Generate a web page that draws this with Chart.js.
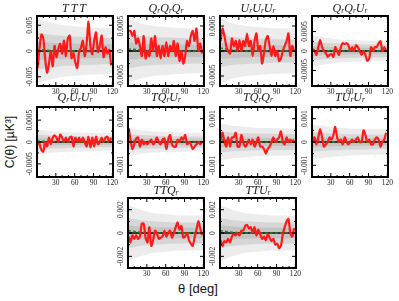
<!DOCTYPE html>
<html lang="en">
<head>
<meta charset="UTF-8">
<title>Three-point correlation functions</title>
<script src="https://cdn.jsdelivr.net/npm/chart.js"></script>
<style>
  body { margin: 0; background: #fff; }
  #wrap { position: relative; width: 399px; height: 301px; overflow: hidden; }
  .panel { position: absolute; }
  .ttl { position: absolute; width: 80px; text-align: center; font: italic 12px "Liberation Serif", serif; line-height: 13px; color: #222; }
  .ttl sub { font-size: 7.5px; vertical-align: -1px; line-height: 0; }
  .ttl.wide { letter-spacing: 2px; }
  #ylab { position: absolute; left: 10px; top: 142px; transform: translate(-50%, -50%) rotate(-90deg); font: 12px "Liberation Sans", Arial, sans-serif; white-space: nowrap; color: #111; }
  #xlab { position: absolute; left: 198px; top: 288px; transform: translate(-50%, -50%); font: 13px "Liberation Sans", Arial, sans-serif; white-space: nowrap; color: #111; }
</style>
</head>
<body>
<div id="wrap">
  <div id="ylab">C(θ) [µK³]</div>
  <div id="xlab">θ [deg]</div>
</div>

<script>
// angular separations of the measured points, and of the simulation bands
const theta = [1,4,7,10,13,16,19,22,25,28,31,34,37,40,43,46,49,52,55,58,61,64,67,70,73,76,79,82,85,88,91,94,97,100,103,106,109,112,115,118];
const bandTheta = [0,20,40,60,80,100,120];
const xTicks = [30,60,90,120];

// TTT
const tttRed = [-0.0033,0.0005,0.0032,0.0025,-0.0015,-0.0042,-0.0025,0.0,-0.003,0.001,-0.0012,0.0004,0.0014,-0.0005,0.002,-0.001,0.0024,0.003,-0.0014,-0.0004,-0.0022,-0.0033,-0.0002,0.0006,0.002,-0.001,0.0014,0.0057,0.001,-0.0006,0.002,0.0036,-0.0002,0.001,0.003,-0.0012,0.0007,-0.0005,0.0002,-0.0028];
const tttMean = [0.0003,0.0001,0.0,0.0,-0.0001,0.0,0.0];
const tttInner = [0.0018,0.0016,0.0015,0.0014,0.0014,0.0013,0.0013];
const tttMid = [0.0036,0.0032,0.0029,0.0028,0.0027,0.0026,0.0025];
const tttOuter = [0.0062,0.0056,0.005,0.0048,0.0046,0.0045,0.0044];
const tttTicks = [-0.005,0,0.005];

// QrQrQr
const qqqRed = [0.0004,0.0004,0.0003,0.0004,0.00015,0.00025,0.0001,-0.0001,0.0003,-0.00015,0.0,-0.0001,0.00025,0.0,0.0003,-0.0001,0.0001,-0.00015,0.0001,-0.0001,0.00018,-0.0001,0.0001,0.0,0.0002,-0.0001,0.00015,-0.0002,0.0,-0.00025,-0.0001,0.0002,0.0001,0.0003,0.0004,0.0002,0.00045,0.0,0.00015,-0.00005];
const qqqMean = [0.00004,0.00002,0.0,0.0,0.0,-0.00001,0.0];
const qqqInner = [0.00017,0.00015,0.00014,0.00013,0.00013,0.00012,0.00012];
const qqqMid = [0.00035,0.0003,0.00028,0.00027,0.00026,0.00025,0.00025];
const qqqOuter = [0.00065,0.00055,0.0005,0.00048,0.00046,0.00045,0.00044];
const qqqTicks = [-0.0005,0,0.0005];

// UrUrUr
const uuuRed = [0.0002,0.00045,0.0003,0.0001,0.0,-0.00005,0.00025,0.0001,0.0002,0.0,0.00022,0.0,0.0002,0.0001,0.00035,0.0001,0.0002,-0.0001,0.0002,0.00035,0.0,0.0001,-0.00025,-0.00005,0.00022,0.0003,0.0001,-0.0001,0.0001,-0.0001,0.0,-0.0002,-0.00015,0.0,0.0001,0.0002,0.00035,-0.0001,0.0001,0.0];
const uuuMean = [0.00006,0.00002,0.0,0.0,-0.00001,0.0,0.0];
const uuuInner = [0.00016,0.00014,0.00013,0.00012,0.00012,0.00011,0.00011];
const uuuMid = [0.00032,0.00028,0.00026,0.00025,0.00024,0.00023,0.00023];
const uuuOuter = [0.00065,0.00055,0.0005,0.00048,0.00046,0.00045,0.00045];
const uuuTicks = [-0.0005,0,0.0005];

// QrQrUr
const qquRed = [0.00005,0.0,-0.0001,0.0001,0.00028,0.0001,0.0,-0.00005,-0.00015,-0.0001,-0.00008,-0.00015,0.0001,0.0,-0.0001,0.0001,0.0002,0.00018,0.0002,0.00015,0.0,0.0001,0.0,0.00015,0.0001,0.0,-0.0001,0.0,-0.0001,-0.00025,-0.0002,0.0001,0.0,0.0001,0.0001,0.0002,0.00025,0.0,0.0001,0.0];
const qquMean = [0.00002,0.00001,0.0,0.0,0.0,0.0,0.0];
const qquInner = [0.00012,0.0001,0.000095,0.00009,0.000085,0.000085,0.00008];
const qquMid = [0.00024,0.00021,0.00019,0.00018,0.00017,0.00017,0.00016];
const qquOuter = [0.0004,0.00035,0.0003,0.00028,0.00027,0.00026,0.00025];
const qquTicks = [-0.0005,0,0.0005];

// QrUrUr
const quuRed = [0.0,-0.00005,-0.00018,-0.00022,0.0,-0.0001,0.0001,-0.00005,0.0001,0.00015,0.0001,0.0,0.00017,0.0001,0.0,0.0001,0.0,0.0001,0.00012,-0.0001,0.0001,0.0,0.0001,0.0,0.0001,0.0,-0.0001,0.00012,-0.00012,0.0001,-0.0001,0.00012,-0.00005,0.0,0.0001,0.0,0.0001,0.00012,0.0,0.0001];
const quuMean = [0.00002,0.00001,0.0,0.0,0.0,0.0,0.0];
const quuInner = [0.00009,0.00008,0.00007,0.00007,0.000065,0.00006,0.00006];
const quuMid = [0.00017,0.00015,0.00014,0.00013,0.00013,0.00012,0.00012];
const quuOuter = [0.00028,0.00025,0.00023,0.00022,0.00021,0.0002,0.0002];
const quuTicks = [-0.0005,0,0.0005];

// TQrUr
const tquRed = [0.0006,0.0001,-0.0003,-0.0001,0.00015,0.0002,-0.0002,0.0001,-0.0001,0.0,-0.0001,0.0,0.0001,-0.0001,0.0,0.0002,0.0,-0.0001,0.0001,0.00015,-0.0003,0.0001,0.0003,-0.0001,-0.0002,-0.0002,0.0001,0.0,0.0002,0.0001,0.0003,-0.0001,0.0,-0.0001,-0.0003,-0.0002,-0.0001,0.0,-0.0001,0.0];
const tquMean = [0.00005,0.00002,0.0,0.0,0.0,0.0,0.0];
const tquInner = [0.00017,0.00015,0.00014,0.00013,0.000125,0.00012,0.00012];
const tquMid = [0.00034,0.0003,0.00028,0.00026,0.00025,0.00024,0.00024];
const tquOuter = [0.0006,0.0005,0.00045,0.00043,0.00042,0.0004,0.0004];
const tquTicks = [-0.001,0,0.001];

// TQrQr
const tqqRed = [0.0001,0.0004,0.0,-0.0002,0.0002,-0.0002,0.0002,0.0002,0.0004,-0.0002,-0.0002,0.0003,0.0,-0.0002,-0.0001,0.0001,-0.0001,0.0001,-0.0002,0.0,0.0002,-0.0002,-0.0002,-0.0003,-0.0005,-0.0003,-0.0002,0.0,0.0002,0.0,0.0001,0.0002,0.00045,0.0,-0.0001,0.0002,0.0,0.0001,0.0,0.0001];
const tqqMean = [0.0001,0.00004,0.0,0.0,0.0,0.0,0.0];
const tqqInner = [0.00022,0.0002,0.00019,0.00018,0.00017,0.00017,0.00017];
const tqqMid = [0.00045,0.0004,0.00038,0.00036,0.00035,0.00034,0.00034];
const tqqOuter = [0.0008,0.0007,0.00065,0.0006,0.0006,0.00058,0.00058];
const tqqTicks = [-0.001,0,0.001];

// TUrUr
const tuuRed = [0.0,0.0002,-0.0001,0.0002,0.00055,0.0002,-0.0002,-0.0001,0.0,0.0002,0.0001,0.0003,0.00065,0.0002,0.0,0.0001,-0.0001,0.0002,0.0,-0.0001,0.0,0.0001,0.0,0.0001,0.0002,0.0,0.0,0.0005,0.0003,0.0,0.0001,-0.0001,-0.0001,0.0001,0.0002,0.0001,-0.0002,0.0,0.0001,0.0004];
const tuuMean = [0.00006,0.00002,0.0,0.0,0.0,0.0,0.0];
const tuuInner = [0.00021,0.00019,0.00018,0.00017,0.00016,0.00016,0.00016];
const tuuMid = [0.00042,0.00038,0.00035,0.00033,0.00032,0.00031,0.00031];
const tuuOuter = [0.00075,0.00068,0.00062,0.00058,0.00056,0.00055,0.00055];
const tuuTicks = [-0.001,0,0.001];

// TTQr
const ttqRed = [-0.0003,-0.0008,-0.0002,-0.0005,-0.0002,-0.0005,-0.0003,0.0008,0.0008,-0.0004,-0.0008,0.0005,-0.0011,-0.0006,0.0002,0.0,-0.0005,-0.0004,-0.0003,0.0002,-0.0003,0.0,0.0002,-0.0004,0.0,0.0005,0.0009,0.0003,0.0006,-0.0004,-0.0003,0.0,-0.0006,-0.0009,-0.0011,-0.0004,0.0003,0.001,0.0004,-0.0002];
const ttqMean = [0.0002,0.00005,0.0,0.0,0.0,0.0,0.0];
const ttqInner = [0.00065,0.00055,0.0005,0.00048,0.00045,0.00045,0.00045];
const ttqMid = [0.0013,0.0011,0.001,0.00095,0.0009,0.0009,0.0009];
const ttqOuter = [0.0024,0.002,0.0017,0.0016,0.0015,0.0015,0.0015];
const ttqTicks = [-0.002,0,0.002];

// TTUr
const ttuRed = [-0.0006,-0.0011,-0.0007,-0.0008,-0.0005,-0.0008,-0.0003,-0.0001,-0.0002,0.0,-0.0002,0.0002,0.0002,0.0006,0.0007,0.0004,0.0005,0.0,0.0005,-0.0002,0.0003,-0.0001,-0.0005,-0.0003,-0.0006,-0.0001,-0.0004,-0.0007,-0.0005,-0.001,-0.0009,-0.0013,-0.0011,-0.0001,0.0005,0.001,0.0012,0.0,-0.0003,0.0004];
const ttuMean = [0.0002,0.00005,0.0,0.0,0.0,0.0,0.0];
const ttuInner = [0.00065,0.00055,0.0005,0.00048,0.00045,0.00045,0.00045];
const ttuMid = [0.0013,0.0011,0.001,0.00095,0.0009,0.0009,0.0009];
const ttuOuter = [0.0024,0.002,0.0017,0.0016,0.0015,0.0015,0.0015];
const ttuTicks = [-0.002,0,0.002];

const S = '<sub>r</sub>';
const panels = [
  { title: 'TTT', wide: true, red: tttRed, mean: tttMean, inner: tttInner, mid: tttMid, outer: tttOuter, ticks: tttTicks, range: 0.0068, left: 37, top: 16, tOff: 14 },
  { title: 'Q'+S+'Q'+S+'Q'+S, red: qqqRed, mean: qqqMean, inner: qqqInner, mid: qqqMid, outer: qqqOuter, ticks: qqqTicks, range: 0.0007, left: 128, top: 16, tOff: 14 },
  { title: 'U'+S+'U'+S+'U'+S, red: uuuRed, mean: uuuMean, inner: uuuInner, mid: uuuMid, outer: uuuOuter, ticks: uuuTicks, range: 0.0007, left: 220, top: 16, tOff: 14 },
  { title: 'Q'+S+'Q'+S+'U'+S, red: qquRed, mean: qquMean, inner: qquInner, mid: qquMid, outer: qquOuter, ticks: qquTicks, range: 0.0009, left: 312, top: 16, tOff: 14 },
  { title: 'Q'+S+'U'+S+'U'+S, red: quuRed, mean: quuMean, inner: quuInner, mid: quuMid, outer: quuOuter, ticks: quuTicks, range: 0.0008, left: 37, top: 107, tOff: 16 },
  { title: 'TQ'+S+'U'+S, red: tquRed, mean: tquMean, inner: tquInner, mid: tquMid, outer: tquOuter, ticks: tquTicks, range: 0.0015, left: 128, top: 107, tOff: 16 },
  { title: 'TQ'+S+'Q'+S, red: tqqRed, mean: tqqMean, inner: tqqInner, mid: tqqMid, outer: tqqOuter, ticks: tqqTicks, range: 0.0015, left: 220, top: 107, tOff: 16 },
  { title: 'TU'+S+'U'+S, red: tuuRed, mean: tuuMean, inner: tuuInner, mid: tuuMid, outer: tuuOuter, ticks: tuuTicks, range: 0.0015, left: 312, top: 107, tOff: 16 },
  { title: 'TTQ'+S, red: ttqRed, mean: ttqMean, inner: ttqInner, mid: ttqMid, outer: ttqOuter, ticks: ttqTicks, range: 0.003, left: 128, top: 198, tOff: 14 },
  { title: 'TTU'+S, red: ttuRed, mean: ttuMean, inner: ttuInner, mid: ttuMid, outer: ttuOuter, ticks: ttuTicks, range: 0.003, left: 220, top: 198, tOff: 14 }
];

// frame, inward ticks, rotated y labels and the zero line
const framePlugin = {
  id: 'frame',
  beforeDatasetDraw(chart, args) {
    if (args.index !== 1) return;
    const { ctx, chartArea: a, scales: { y } } = chart;
    const py = y.getPixelForValue(0);
    ctx.save();
    ctx.strokeStyle = '#000';
    ctx.lineWidth = 1.5;
    ctx.beginPath(); ctx.moveTo(a.left, py); ctx.lineTo(a.right, py); ctx.stroke();
    ctx.restore();
  },
  afterDraw(chart) {
    const { ctx, chartArea: a, scales: { x, y } } = chart;
    ctx.save();
    ctx.strokeStyle = '#000';
    ctx.lineWidth = 1;
    const seg = (x1, y1, x2, y2) => { ctx.beginPath(); ctx.moveTo(x1, y1); ctx.lineTo(x2, y2); ctx.stroke(); };
    for (let v = 10; v <= 120; v += 10) {
      const px = x.getPixelForValue(v);
      const len = v % 30 === 0 ? 4 : 2;
      seg(px, a.top, px, a.top + len);
      seg(px, a.bottom, px, a.bottom - len);
    }
    const tv = y.ticks.map(t => t.value);
    const minor = [];
    for (let i = 0; i < tv.length - 1; i++) minor.push((tv[i] + tv[i + 1]) / 2);
    tv.forEach(v => {
      const py = y.getPixelForValue(v);
      seg(a.left, py, a.left + 4, py);
      seg(a.right, py, a.right - 4, py);
    });
    minor.forEach(v => {
      const py = y.getPixelForValue(v);
      seg(a.left, py, a.left + 2, py);
      seg(a.right, py, a.right - 2, py);
    });
    ctx.lineWidth = 2;
    ctx.strokeRect(a.left, a.top, a.right - a.left, a.bottom - a.top);
    // y tick labels, rotated
    ctx.fillStyle = '#222';
    ctx.font = '7.5px "Liberation Serif", serif';
    ctx.textAlign = 'center';
    ctx.textBaseline = 'middle';
    tv.forEach(v => {
      ctx.save();
      ctx.translate(a.left - 7, y.getPixelForValue(v));
      ctx.rotate(-Math.PI / 2);
      ctx.fillText(String(v), 0, 0);
      ctx.restore();
    });
    ctx.restore();
  }
};

const wrap = document.getElementById('wrap');
const pts = (xs, ys) => xs.map((t, i) => ({ x: t, y: ys[i] }));
const neg = arr => arr.map(v => -v);

panels.forEach(p => {
  const W = 108, H = 86;
  const canvas = document.createElement('canvas');
  canvas.width = W; canvas.height = H;
  canvas.className = 'panel';
  canvas.style.left = (p.left - 22) + 'px';
  canvas.style.top = (p.top - 3) + 'px';
  wrap.appendChild(canvas);

  const t = document.createElement('div');
  t.className = p.wide ? 'ttl wide' : 'ttl';
  t.innerHTML = p.title;
  t.style.left = (p.left - 2) + 'px';
  t.style.top = (p.top - p.tOff) + 'px';
  wrap.appendChild(t);

  const band = (vals, color, order) => ([
    { data: pts(bandTheta, vals), fill: '+1', backgroundColor: color, borderWidth: 0, pointRadius: 0, order },
    { data: pts(bandTheta, neg(vals)), fill: false, borderWidth: 0, pointRadius: 0, order }
  ]);

  new Chart(canvas.getContext('2d'), {
    type: 'line',
    data: {
      datasets: [
        { data: pts(theta, p.red), borderColor: '#ff1a1a', borderWidth: 2.2, tension: 0.25, pointRadius: 0, fill: false, order: 0 },
        { data: pts(bandTheta, p.mean), borderColor: '#1f8a1f', borderWidth: 1.6, borderDash: [3, 2], pointRadius: 0, fill: false, order: 1 },
        ...band(p.inner, '#c4c4c4', 2),
        ...band(p.mid, '#d6d6d6', 3),
        ...band(p.outer, '#ececec', 4)
      ]
    },
    options: {
      responsive: false,
      animation: false,
      devicePixelRatio: 1,
      events: [],
      layout: { padding: { left: 2, right: 10, top: 3, bottom: 0 } },
      plugins: { legend: { display: false }, tooltip: { enabled: false } },
      scales: {
        x: {
          type: 'linear', min: 0, max: 121,
          grid: { display: false, drawTicks: false },
          border: { display: false },
          afterBuildTicks: ax => { ax.ticks = xTicks.map(v => ({ value: v })); },
          afterFit: s => { s.height = 13; s.paddingLeft = s.paddingRight = s.paddingTop = s.paddingBottom = 0; },
          ticks: { autoSkip: false, maxRotation: 0, padding: 2, color: '#222', font: { family: '"Liberation Serif", serif', size: 7.5 } }
        },
        y: {
          type: 'linear', min: -p.range, max: p.range,
          grid: { display: false, drawTicks: false },
          border: { display: false },
          afterBuildTicks: ax => { ax.ticks = p.ticks.map(v => ({ value: v })); },
          afterFit: s => { s.width = 20; s.paddingLeft = s.paddingRight = s.paddingTop = s.paddingBottom = 0; },
          ticks: { display: false }
        }
      }
    },
    plugins: [framePlugin]
  });
});
</script>
</body>
</html>
